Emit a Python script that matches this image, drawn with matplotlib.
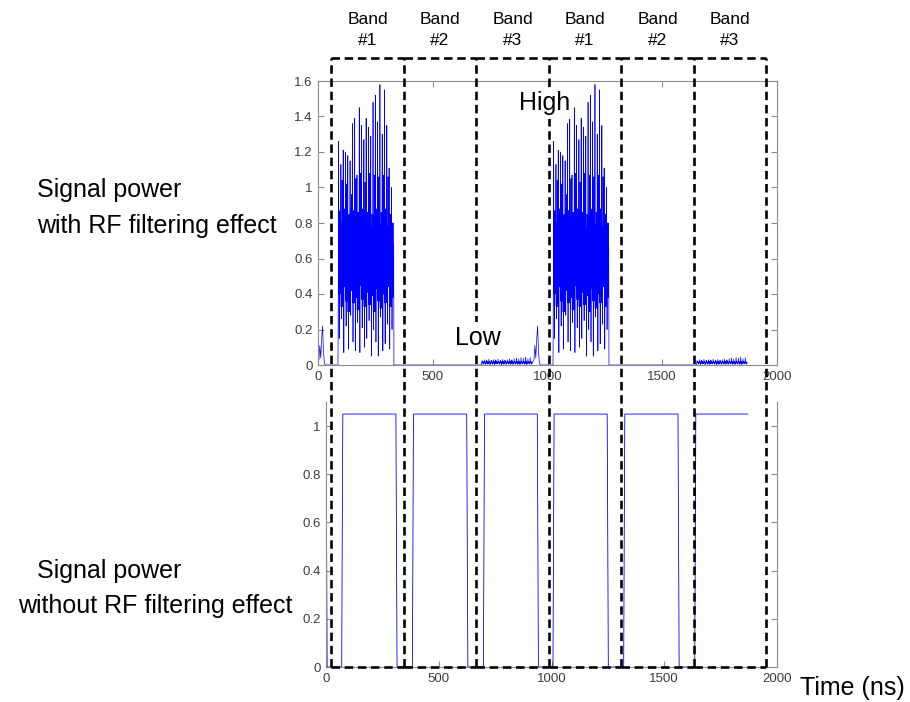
import numpy as np
import matplotlib
matplotlib.use("Agg")
import matplotlib.pyplot as plt
from matplotlib.lines import Line2D
from matplotlib.transforms import blended_transform_factory
from matplotlib.ticker import FuncFormatter, MultipleLocator

plt.rcParams["font.family"] = ["Liberation Sans", "DejaVu Sans"]

# ---------------- frame timing (ns) ----------------
frame_period = 937.0          # one hop through bands 1-2-3
t_end = 1870.0                # end of simulated record
band_edges = [22, 346, 665, 989, 1308, 1632, 1951]
band_names = ["#1", "#2", "#3", "#1", "#2", "#3"]

# ---------------- power with RF filtering ----------------
# tail of the weak band-3 burst spilling into the frame start
tail_t = [0, 4, 8, 12, 16, 20, 24, 28, 32]
tail_v = [0.02, 0.03, 0.11, 0.04, 0.15, 0.22, 0.07, 0.01, 0.0]

# band 1: strong burst, one spike per 10 ns cycle
band1_start = 88.0
band1_cycle = 10.0
band1_lead = [0.29, 0.58]
band1_trail = [0.68, 0.0]
band1_peaks = [1.26, 1.13, 1.21, 1.20, 1.18, 1.15, 1.36, 1.39, 1.07, 1.45, 1.35, 1.27,
               1.39, 1.34, 1.29, 1.48, 1.52, 1.37, 1.58, 1.30, 1.55, 1.35, 1.11, 1.00]
band1_shoulders = [0.86, 1.04, 0.88, 1.02, 0.85, 0.96, 0.87, 1.05, 0.86, 1.08, 0.88, 1.03,
                   0.86, 1.08, 0.85, 1.07, 0.87, 1.06, 0.86, 1.07, 0.88, 1.06, 0.85, 0.80]
band1_troughs = [0.15, 0.26, 0.07, 0.22, 0.09, 0.28, 0.13, 0.08, 0.24, 0.07, 0.21, 0.10,
                 0.15, 0.25, 0.05, 0.20, 0.13, 0.05, 0.27, 0.08, 0.12, 0.23, 0.09, 0.20]
band1_core_hi = [0.87, 0.80, 0.85, 0.76, 0.84, 0.88, 0.79, 0.83, 0.86, 0.78, 0.82, 0.87,
                 0.80, 0.85, 0.77, 0.84, 0.88, 0.81, 0.79, 0.86, 0.83, 0.78, 0.85, 0.80]
band1_core_lo = [0.40, 0.33, 0.44, 0.36, 0.30, 0.42, 0.35, 0.38, 0.31, 0.45, 0.37, 0.33,
                 0.41, 0.34, 0.39, 0.30, 0.43, 0.36, 0.32, 0.40, 0.35, 0.44, 0.33, 0.38]
band1_template = ["P", "L", "H", "T", 0.74, "L", "S", 0.48, "H", "L", 0.66]

# band 3: weak burst (mostly filtered out)
band3_start = 713.0
band3_cycle = 10.0
band3_lead = [0.008]
band3_trail = []
band3_peaks = [0.025, 0.030, 0.028, 0.032, 0.027, 0.030, 0.029, 0.033, 0.026, 0.031, 0.028,
               0.030, 0.034, 0.029, 0.036, 0.040, 0.033, 0.042, 0.038, 0.045, 0.036, 0.041]
band3_troughs = [0.004, 0.003, 0.005, 0.002, 0.004, 0.003, 0.005, 0.004, 0.002, 0.004, 0.003,
                 0.005, 0.004, 0.003, 0.005, 0.004, 0.003, 0.005, 0.004, 0.003, 0.005, 0.004]
band3_template = ["P", 0.012, 0.020, "T", 0.016, 0.008]

# ---------------- power without RF filtering ----------------
pulse_rise = [69.5, 383.0, 698.0]
pulse_fall = [310.0, 624.0, 937.0]
pulse_level = 1.05
edge_level = 0.52
edge_step = 2.5


def build_burst(start, cycle, lead, trail, peaks, troughs, template,
                shoulders=None, core_hi=None, core_lo=None):
    per_cycle = {"P": peaks, "T": troughs, "S": shoulders, "H": core_hi, "L": core_lo}
    vals = list(lead)
    for i in range(len(peaks)):
        for item in template:
            vals.append(per_cycle[item][i] if isinstance(item, str) else item)
    vals += list(trail)
    dt = cycle / len(template)
    t = start + dt * np.arange(len(vals))
    return t, np.array(vals)


def clip_trace(t, v, t0, t1):
    grid = np.unique(np.concatenate([[t0, t1], t[(t >= t0) & (t <= t1)]]))
    return grid, np.interp(grid, t, v)


# one frame of the filtered trace
b1_t, b1_v = build_burst(band1_start, band1_cycle, band1_lead, band1_trail,
                         band1_peaks, band1_troughs, band1_template,
                         band1_shoulders, band1_core_hi, band1_core_lo)
b3_t, b3_v = build_burst(band3_start, band3_cycle, band3_lead, band3_trail,
                         band3_peaks, band3_troughs, band3_template)
frame_t = np.concatenate([tail_t, [b1_t[0] - 1.0], b1_t, [b3_t[0] - 1.0], b3_t])
frame_v = np.concatenate([tail_v, [0.0], b1_v, [0.0], b3_v])
filt_t = np.concatenate([frame_t + k * frame_period for k in range(2)])
filt_v = np.concatenate([frame_v for _ in range(2)])
filt_t, filt_v = clip_trace(filt_t, filt_v, 0.0, t_end)

# unfiltered rectangular pulses
raw_t, raw_v = [], []
for k in range(-1, 2):
    off = k * frame_period
    for r, f in zip(pulse_rise, pulse_fall):
        raw_t += [r + off, r + off + edge_step, r + off + 2 * edge_step,
                  f + off, f + off + edge_step, f + off + 2 * edge_step]
        raw_v += [0.0, edge_level, pulse_level, pulse_level, edge_level, 0.0]
raw_t, raw_v = clip_trace(np.array(raw_t), np.array(raw_v), 0.0, t_end)

# ---------------- figure ----------------
W, H = 910, 702
fig = plt.figure(figsize=(W / 100, H / 100), dpi=100)


def fx(px):
    return px / W


def fy(py):
    return 1 - py / H


ax1 = fig.add_axes([fx(318), fy(365), (777 - 318) / W, (365 - 81) / H])
ax2 = fig.add_axes([fx(326), fy(667), (777 - 326) / W, (667 - 402) / H])

blue = "#0000ff"
ax1.plot(filt_t, filt_v, color=blue, lw=0.5)
ax2.plot(raw_t, raw_v, color=blue, lw=0.6)

ax1.set_xlim(0, 2000)
ax1.set_ylim(0, 1.6)
ax2.set_xlim(0, 2000)
ax2.set_ylim(0, 1.1)
ax1.yaxis.set_major_locator(MultipleLocator(0.2))
ax2.set_yticks([0, 0.2, 0.4, 0.6, 0.8, 1.0])
for ax in (ax1, ax2):
    ax.xaxis.set_major_locator(MultipleLocator(500))
    ax.yaxis.set_major_formatter(FuncFormatter(lambda v, p: "%g" % round(v, 2)))
    ax.xaxis.set_major_formatter(FuncFormatter(lambda v, p: "%g" % v))

spine_col = "#8c8c8c"
for ax, has_top in ((ax1, True), (ax2, False)):
    for s in ax.spines.values():
        s.set_color(spine_col)
        s.set_linewidth(0.8)
    ax.spines["top"].set_visible(has_top)
    ax.tick_params(direction="in", length=4, width=0.8, color=spine_col,
                   labelsize=9.5, labelcolor="#3c3c3c", pad=4,
                   right=True, top=has_top)

# dashed band boxes spanning both panels
trans = blended_transform_factory(ax2.transData, fig.transFigure)
box_top = fy(58)
box_bottom = ax2.get_position().y0
dash_kw = dict(color="black", lw=1.9, linestyle=(0, (3.2, 1.8)), transform=trans, zorder=2)
for e in band_edges:
    fig.add_artist(Line2D([e, e], [box_bottom, box_top], **dash_kw))
for a, b in zip(band_edges[:-1], band_edges[1:]):
    fig.add_artist(Line2D([a, b], [box_top, box_top], **dash_kw))
    fig.add_artist(Line2D([a, b], [box_bottom, box_bottom], **dash_kw))

# band labels
for a, b, name in zip(band_edges[:-1], band_edges[1:], band_names):
    fig.text((a + b) / 2, fy(30), "Band\n" + name, transform=trans,
             ha="center", va="center", fontsize=12.5, linespacing=1.5)

label_kw = dict(fontsize=18, ha="left", va="center")
fig.text(fx(37), fy(190), "Signal power", **label_kw)
fig.text(fx(37), fy(226), "with RF filtering effect", **label_kw)
fig.text(fx(37), fy(571), "Signal power", **label_kw)
fig.text(fx(18), fy(606), "without RF filtering effect", **label_kw)
fig.text(fx(800), fy(688), "Time (ns)", **label_kw)

white_box = dict(facecolor="white", edgecolor="none", pad=2.5)
fig.text(fx(545), fy(103), "High", fontsize=18, ha="center", va="center",
         bbox=white_box, zorder=3)
fig.text(fx(478), fy(338), "Low", fontsize=18, ha="center", va="center",
         bbox=white_box, zorder=3)

fig.savefig("out.png", dpi=100)
